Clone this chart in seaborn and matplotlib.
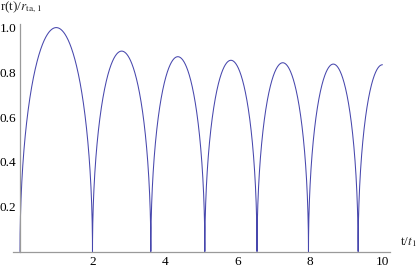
import numpy as np
import pandas as pd
import matplotlib
matplotlib.use('Agg')
import matplotlib.pyplot as plt
import seaborn as sns
from matplotlib.ticker import FixedLocator, MultipleLocator

# valores
bounce_t = [0.0, 2.0, 3.61, 5.10, 6.54, 7.96, 9.33, 10.67]   # ceros de r(t)
peak_r = [1.0, 0.895, 0.870, 0.854, 0.843, 0.837, 0.834]      # maximos de cada arco
t_end = 10.0
x_ticks = [2, 4, 6, 8, 10]
x_labels = ['2', '4', '6', '8', '10']
y_ticks = [0.2, 0.4, 0.6, 0.8, 1.0]
y_labels = ['0.2', '0.4', '0.6', '0.8', '1.0']

sns.set_style('white')
plt.rcParams['font.family'] = ['Liberation Serif', 'DejaVu Serif']
plt.rcParams['mathtext.fontset'] = 'stix'

# cada rebote dibujado como media elipse entre dos ceros
ts, rs = [], []
phi = np.linspace(0, np.pi, 400)
for i, h in enumerate(peak_r):
    a, b = bounce_t[i], bounce_t[i + 1]
    tc, hw = (a + b) / 2, (b - a) / 2
    t = tc - hw * np.cos(phi)
    r = h * np.sin(phi)
    keep = t <= t_end
    ts.extend(t[keep])
    rs.extend(r[keep])
    if not keep.all():
        ts.append(t_end)
        rs.append(h * np.sqrt(1 - ((t_end - tc) / hw) ** 2))
df = pd.DataFrame({'t': ts, 'r': rs})

fig = plt.figure(figsize=(4.17, 2.70), dpi=100)
ax = fig.add_axes([0.0306, 0.0685, 0.9047, 0.8426])
sns.lineplot(data=df, x='t', y='r', sort=False, estimator=None,
             color=(0.28, 0.28, 0.68), linewidth=0.75, ax=ax)

ax.set_xlim(-0.2, 10.21)
ax.set_ylim(0, 1.016)
for s in ['top', 'right']:
    ax.spines[s].set_visible(False)
ax.spines['left'].set_position(('data', 0))
ax.spines['bottom'].set_position(('data', 0))
gris = '#9a9a9a'
for s in ['left', 'bottom']:
    ax.spines[s].set_color(gris)
    ax.spines[s].set_linewidth(0.9)

ax.xaxis.set_major_locator(FixedLocator(x_ticks))
ax.set_xticklabels(x_labels)
ax.yaxis.set_major_locator(FixedLocator(y_ticks))
ax.set_yticklabels(y_labels)
ax.xaxis.set_minor_locator(MultipleLocator(0.5))
ax.yaxis.set_minor_locator(MultipleLocator(0.05))
ax.tick_params(which='major', direction='in', length=4, width=0.8, color=gris,
               labelsize=9.5, labelcolor='black', pad=3)
ax.tick_params(which='minor', direction='in', length=2.2, width=0.7, color=gris)
ax.tick_params(axis='y', pad=2.5)
ax.set_xlabel('')
ax.set_ylabel('')

fig.text(0.0, 1 - 10 / 270, 'r(t)/$r_{\\mathrm{ta,1}}$', fontsize=9.5, va='baseline', ha='left')
fig.text(0.959, (270 - 245.5) / 270, 't/$t_1$', fontsize=9.5, va='baseline', ha='left')

fig.savefig('out.png', dpi=100)
